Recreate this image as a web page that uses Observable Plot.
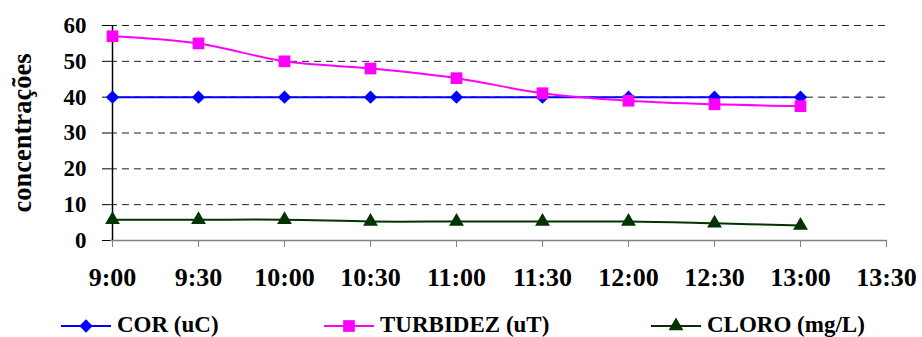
<!DOCTYPE html>
<html><head><meta charset="utf-8">
<script src="https://cdn.jsdelivr.net/npm/d3@7"></script>
<script src="https://cdn.jsdelivr.net/npm/@observablehq/plot@0.6"></script>
<style>
body{margin:0;background:#fff;}
#chart{width:922px;height:337px;overflow:hidden;font-family:"Liberation Serif","DejaVu Serif",serif;}
#chart svg{display:block;}
</style></head><body><div id="chart"></div>
<script>
const times = ["9:00","9:30","10:00","10:30","11:00","11:30","12:00","12:30","13:00","13:30"];
const corValues = [40,40,40,40,40,40,40,40,40];
const turbidezValues = [57,55,50,48,45.3,41.1,39,38,37.5];
const cloroValues = [5.8,5.8,5.8,5.3,5.3,5.3,5.3,4.8,4.2];
const seriesNames = ["COR (uC)","TURBIDEZ (uT)","CLORO (mg/L)"];
const seriesColors = ["#0000FF","#FF00FF","#003300"];
const seriesSymbols = ["diamond2","square","triangle"];
const yTicks = [0,10,20,30,40,50,60];
const yTitle = "concentrações";

const seriesValues = [corValues, turbidezValues, cloroValues];
const markerR = [6, 6.6, 5.5];
const rows = seriesNames.flatMap((name, s) =>
  seriesValues[s].map((v, i) => ({series: name, time: times[i], value: v})));

const font = '"Liberation Serif", "DejaVu Serif", serif';

const dotMarks = seriesNames.map((name, s) =>
  Plot.dot(rows.filter(d => d.series === name),
    {x: "time", y: "value", symbol: () => seriesSymbols[s], fill: seriesColors[s], r: markerR[s], stroke: "none"}));

const chart = Plot.plot({
  width: 922, height: 300,
  marginLeft: 110, marginRight: 35, marginTop: 25, marginBottom: 60,
  style: {fontFamily: font, fontWeight: "bold", background: "#fff", color: "#000", overflow: "visible"},
  x: {type: "point", domain: times, padding: 0},
  y: {domain: [0, 60]},
  symbol: {type: "identity"},
  color: {domain: seriesNames, range: seriesColors},
  marks: [
    Plot.ruleY(yTicks.filter(d => d > 0), {stroke: "#222", strokeDasharray: "7,5", strokeWidth: 1}),
    Plot.ruleY([0], {stroke: "#808080", strokeWidth: 1.5}),
    Plot.ruleX([times[0]], {y1: 0, y2: 60, stroke: "#000", strokeWidth: 1.5}),
    Plot.axisY({ticks: yTicks, tickSize: 8, tickPadding: 16, fontSize: 23, label: null, stroke: "#000"}),
    Plot.axisX({tickSize: 7, tickPadding: 20, fontSize: 26, label: null, stroke: "#808080"}),
    Plot.line(rows, {x: "time", y: "value", z: "series", stroke: "series", strokeWidth: 2, curve: "catmull-rom"}),
    ...dotMarks,
    Plot.text([yTitle], {text: d => d, frameAnchor: "left", textAnchor: "middle", dx: -88, rotate: -90, fontSize: 26.5, fontWeight: "bold", fill: "#000"})
  ]
});
document.getElementById("chart").appendChild(chart);

// legend below the chart
const legendStarts = [61, 324, 651];
const symbolMap = {diamond2: d3.symbolDiamond2, square: d3.symbolSquare, triangle: d3.symbolTriangle};
const legend = d3.create("svg").attr("width", 922).attr("height", 37)
  .style("font-family", font).style("font-weight", "bold").style("display", "block");
seriesNames.forEach((name, s) => {
  const x0 = legendStarts[s];
  const g = legend.append("g");
  g.append("line").attr("x1", x0).attr("x2", x0 + 50).attr("y1", 26).attr("y2", 26)
    .attr("stroke", seriesColors[s]).attr("stroke-width", 2);
  g.append("path").attr("transform", `translate(${x0 + 25},26)`)
    .attr("d", d3.symbol(symbolMap[seriesSymbols[s]], Math.PI * markerR[s] * markerR[s])())
    .attr("fill", seriesColors[s]);
  g.append("text").attr("x", x0 + 56).attr("y", 32).attr("font-size", 23).attr("fill", "#000").text(name);
});
document.getElementById("chart").appendChild(legend.node());
</script>
</body></html>
